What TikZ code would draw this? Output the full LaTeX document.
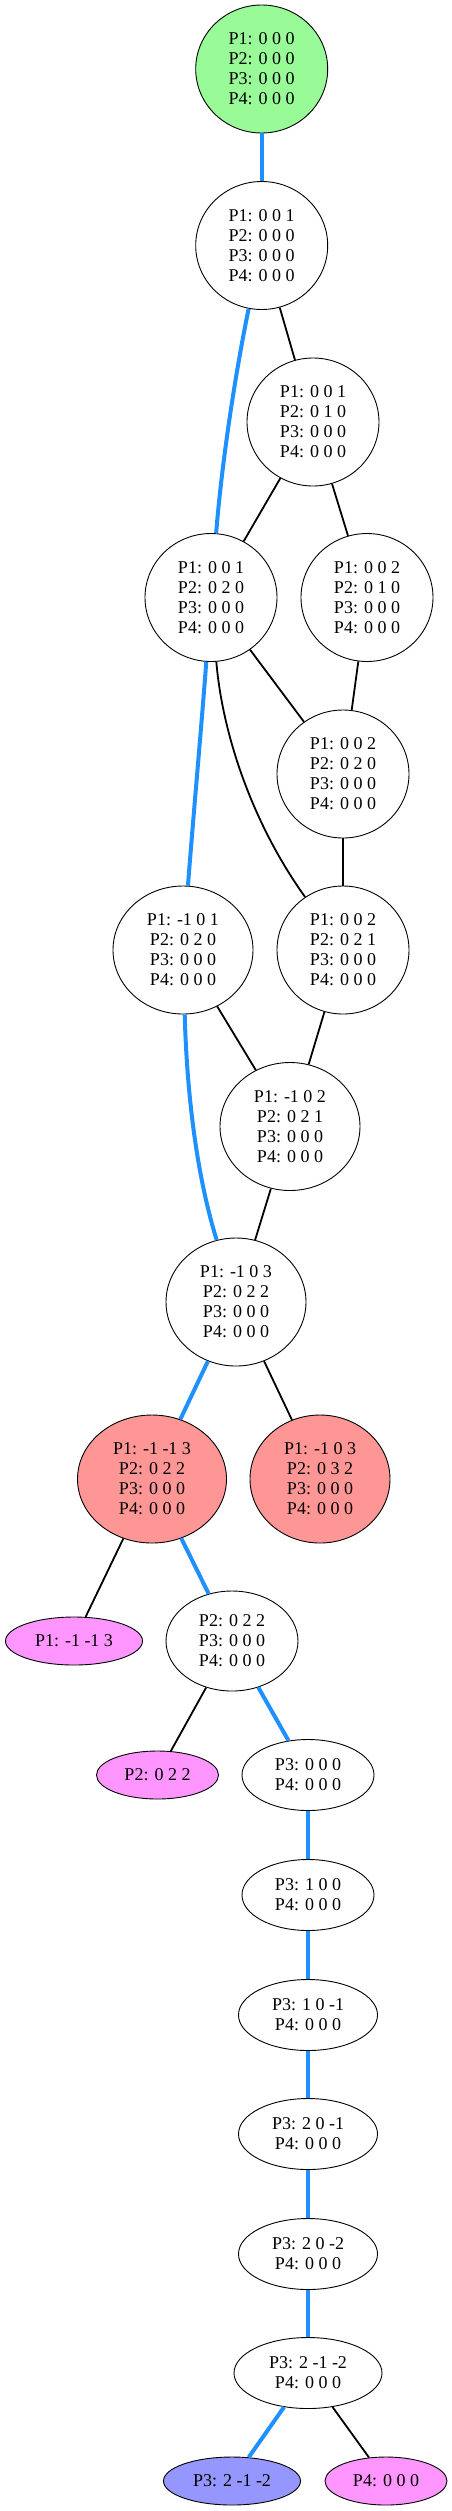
\documentclass[tikz,border=0pt]{standalone}
\usepackage{fontspec}
\setmainfont{Liberation Serif}
\usetikzlibrary{shapes.geometric}
\definecolor{gnode}{RGB}{152,251,152}
\definecolor{rnode}{RGB}{255,150,150}
\definecolor{pnode}{RGB}{255,150,255}
\definecolor{bnode}{RGB}{150,150,255}
\definecolor{bedge}{RGB}{30,144,255}
\tikzset{
  st/.style={ellipse, draw=black, line width=0.9pt, inner sep=0pt, align=center,
    font=\fontsize{18}{20}\selectfont},
  big/.style={st, minimum width=132pt, minimum height=128pt},
  wide/.style={st, minimum width=140pt, minimum height=128pt},
  mid/.style={st, minimum width=132pt, minimum height=100pt},
  small/.style={st, minimum width=132pt, minimum height=71pt},
  smallw/.style={st, minimum width=139pt, minimum height=71pt},
  leaf/.style={st, minimum width=137pt, minimum height=48pt},
  blueline/.style={draw=bedge, line width=4pt},
  blackline/.style={draw=black, line width=1.8pt},
}
\begin{document}
\begin{tikzpicture}[x=1pt,y=-1pt]
\useasboundingbox (0,0) rectangle (452,2511);
\node[big, fill=gnode] (n0) at (261.7,69) {P1: 0 0 0\\P2: 0 0 0\\P3: 0 0 0\\P4: 0 0 0};
\node[big] (n1) at (261.7,245.5) {P1: 0 0 1\\P2: 0 0 0\\P3: 0 0 0\\P4: 0 0 0};
\node[big] (n2) at (313,422) {P1: 0 0 1\\P2: 0 1 0\\P3: 0 0 0\\P4: 0 0 0};
\node[big] (n3) at (211,597.5) {P1: 0 0 1\\P2: 0 2 0\\P3: 0 0 0\\P4: 0 0 0};
\node[big] (n4) at (367,597.5) {P1: 0 0 2\\P2: 0 1 0\\P3: 0 0 0\\P4: 0 0 0};
\node[big] (n5) at (343,774) {P1: 0 0 2\\P2: 0 2 0\\P3: 0 0 0\\P4: 0 0 0};
\node[wide] (n6) at (183,950) {P1: -1 0 1\\P2: 0 2 0\\P3: 0 0 0\\P4: 0 0 0};
\node[big] (n7) at (343,950) {P1: 0 0 2\\P2: 0 2 1\\P3: 0 0 0\\P4: 0 0 0};
\node[wide] (n8) at (290,1126.5) {P1: -1 0 2\\P2: 0 2 1\\P3: 0 0 0\\P4: 0 0 0};
\node[wide] (n9) at (236,1302) {P1: -1 0 3\\P2: 0 2 2\\P3: 0 0 0\\P4: 0 0 0};
\node[st, minimum width=149pt, minimum height=128pt, fill=rnode] (n10) at (152,1479) {P1: -1 -1 3\\P2: 0 2 2\\P3: 0 0 0\\P4: 0 0 0};
\node[wide, fill=rnode] (n11) at (320,1479) {P1: -1 0 3\\P2: 0 3 2\\P3: 0 0 0\\P4: 0 0 0};
\node[leaf, fill=pnode] (n12) at (74,1641) {P1: -1 -1 3};
\node[mid] (n13) at (232,1641) {P2: 0 2 2\\P3: 0 0 0\\P4: 0 0 0};
\node[st, minimum width=122pt, minimum height=48pt, fill=pnode] (n14) at (157.5,1775) {P2: 0 2 2};
\node[small] (n15) at (308,1775) {P3: 0 0 0\\P4: 0 0 0};
\node[small] (n16) at (308,1895) {P3: 1 0 0\\P4: 0 0 0};
\node[smallw] (n17) at (308,2015) {P3: 1 0 -1\\P4: 0 0 0};
\node[smallw] (n18) at (308,2134) {P3: 2 0 -1\\P4: 0 0 0};
\node[smallw] (n19) at (308,2254) {P3: 2 0 -2\\P4: 0 0 0};
\node[st, minimum width=148pt, minimum height=71pt] (n20) at (308,2373) {P3: 2 -1 -2\\P4: 0 0 0};
\node[leaf, fill=bnode] (n21) at (232,2481) {P3: 2 -1 -2};
\node[st, minimum width=122pt, minimum height=48pt, fill=pnode] (n22) at (386,2481) {P4: 0 0 0};

\draw[blueline] (n0) -- (n1);
\draw[blackline] (n1) -- (n2);
\draw[blueline] (n1) .. controls (236,370) and (222,460) .. (n3);
\draw[blackline] (n2) -- (n3);
\draw[blackline] (n2) -- (n4);
\draw[blackline] (n3) -- (n5);
\draw[blackline] (n4) -- (n5);
\draw[blueline] (n3) .. controls (202,720) and (193,820) .. (n6);
\draw[blackline] (n3) .. controls (222,730) and (250,820) .. (n7);
\draw[blackline] (n5) -- (n7);
\draw[blackline] (n6) -- (n8);
\draw[blackline] (n7) -- (n8);
\draw[blueline] (n6) .. controls (187,1100) and (198,1180) .. (n9);
\draw[blackline] (n8) -- (n9);
\draw[blueline] (n9) -- (n10);
\draw[blackline] (n9) -- (n11);
\draw[blackline] (n10) -- (n12);
\draw[blueline] (n10) -- (n13);
\draw[blackline] (n13) -- (n14);
\draw[blueline] (n13) -- (n15);
\draw[blueline] (n15) -- (n16);
\draw[blueline] (n16) -- (n17);
\draw[blueline] (n17) -- (n18);
\draw[blueline] (n18) -- (n19);
\draw[blueline] (n19) -- (n20);
\draw[blueline] (n20) -- (n21);
\draw[blackline] (n20) -- (n22);
\end{tikzpicture}
\end{document}
